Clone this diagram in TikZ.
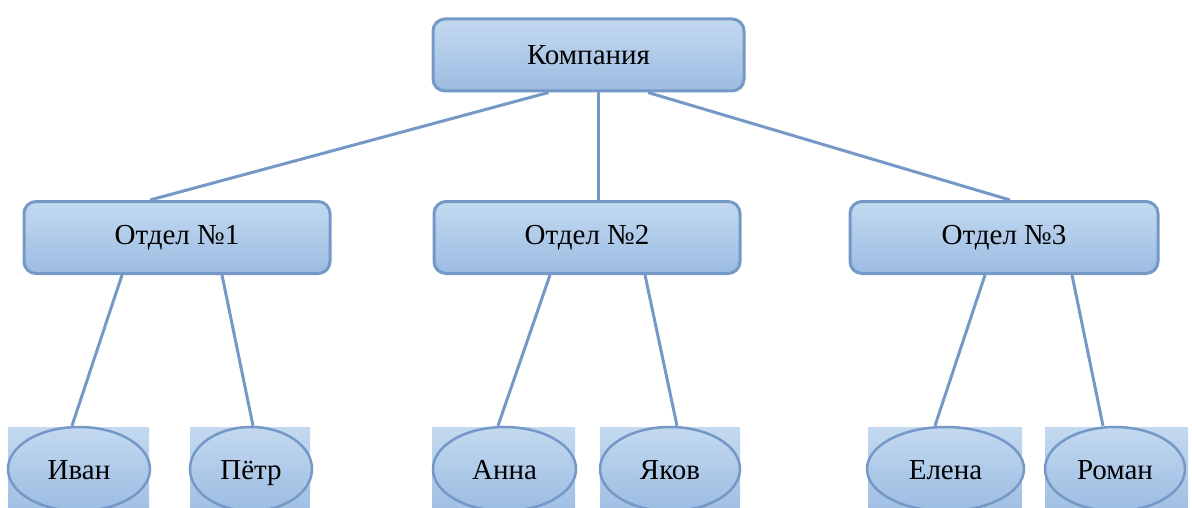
\documentclass[tikz,border=0pt]{standalone}
\usepackage{fontspec}
\setmainfont{Liberation Serif}
\usetikzlibrary{shapes.geometric}
\definecolor{topblue}{HTML}{C3D9F0}
\definecolor{botblue}{HTML}{9CBCE2}
\definecolor{edgeblue}{HTML}{7499C7}
\tikzset{
  box/.style={draw=edgeblue, line width=3pt, rounded corners=12pt,
    top color=topblue, bottom color=botblue, inner sep=0pt,
    minimum height=72pt, font=\fontsize{29}{33}\selectfont},
  leafbg/.style={draw=none, top color=topblue, bottom color=botblue,
    inner sep=0pt, minimum height=94pt},
  leaf/.style={ellipse, draw=edgeblue, line width=2.5pt,
    top color=topblue, bottom color=botblue, inner sep=0pt,
    text height=20pt, text depth=0pt,
    minimum height=84pt, font=\fontsize{29}{33}\selectfont},
  link/.style={draw=edgeblue, line width=3pt}
}
\begin{document}
\begin{tikzpicture}[x=1pt,y=-1pt]
\useasboundingbox (0,0) rectangle (1192,508);
\clip (0,0) rectangle (1192,508);
% top and departments
\node[box, minimum width=311pt] (top) at (588.5,55) {Компания};
\node[box, minimum width=306pt] (o1) at (177,237.5) {Отдел №1};
\node[box, minimum width=306pt] (o2) at (587,237.5) {Отдел №2};
\node[box, minimum width=308pt] (o3) at (1004,237.5) {Отдел №3};
% leaf backgrounds
\node[leafbg, minimum width=141pt, anchor=north] (ivanbg) at (78.5,427) {};
\node[leafbg, minimum width=120pt, anchor=north] (petrbg) at (250,427) {};
\node[leafbg, minimum width=143pt, anchor=north] (annabg) at (503.5,427) {};
\node[leafbg, minimum width=140pt, anchor=north] (yakovbg) at (670,427) {};
\node[leafbg, minimum width=154pt, anchor=north] (elenabg) at (945,427) {};
\node[leafbg, minimum width=143pt, anchor=north] (romanbg) at (1116.5,427) {};
% leaves
\node[leaf, minimum width=142pt] (ivan) at (79,469) {Иван};
\node[leaf, minimum width=122pt] (petr) at (251,469) {Пётр};
\node[leaf, minimum width=143pt] (anna) at (504.5,469) {Анна};
\node[leaf, minimum width=140pt] (yakov) at (670,469) {Яков};
\node[leaf, minimum width=157pt] (elena) at (945.5,469) {Елена};
\node[leaf, minimum width=140pt] (roman) at (1115,469) {Роман};
% connectors
\draw[link] ([xshift=-40pt]top.south) -- ([xshift=-27pt]o1.north);
\draw[link] ([xshift=9.5pt]top.south) -- ([xshift=11pt]o2.north);
\draw[link] ([xshift=59.5pt]top.south) -- ([xshift=6pt]o3.north);
\draw[link] ([xshift=-55pt]o1.south) -- ([xshift=-7pt]ivan.north);
\draw[link] ([xshift=45pt]o1.south) -- ([xshift=2pt]petr.north);
\draw[link] ([xshift=-37pt]o2.south) -- ([xshift=-6.5pt]anna.north);
\draw[link] ([xshift=58pt]o2.south) -- ([xshift=7pt]yakov.north);
\draw[link] ([xshift=-19pt]o3.south) -- ([xshift=-10.5pt]elena.north);
\draw[link] ([xshift=68pt]o3.south) -- ([xshift=-12pt]roman.north);
\end{tikzpicture}
\end{document}
